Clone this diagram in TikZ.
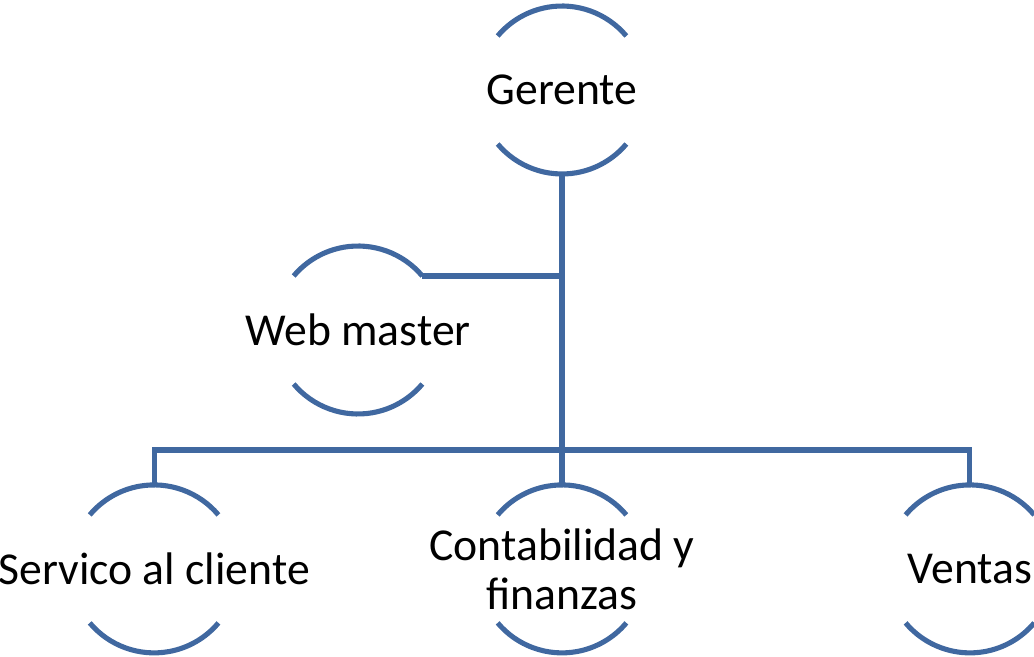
\documentclass[tikz,border=0pt]{standalone}
\usepackage{fontspec}
\setmainfont{Carlito}
\usepackage{tikz}
\usetikzlibrary{positioning}
\definecolor{orgblue}{RGB}{64,104,160}

\begin{document}
\begin{tikzpicture}[
  x=0.02cm, y=0.02cm,
  node distance=6.22cm and 4.8cm,
  role/.style={circle, minimum size=3.36cm, inner sep=0pt, outer sep=0pt},
  rolename/.style={font=\fontsize{26}{28}\selectfont, align=center, inner sep=0pt},
  rim/.style={draw=orgblue, line width=2.9pt},
  link/.style={draw=orgblue, line width=2.9pt}
]
\useasboundingbox (0,0) rectangle (1034,656);

\node[role, label={[rolename]center:Gerente}] (gerente) at (562,566) {};
\node[role, label={[rolename]center:Web master}] (web) at (358,326) {};
\node[role, below=of gerente, label={[rolename]center:Contabilidad y\\finanzas}] (contab) {};
\node[role, left=of contab, label={[rolename]center:Servico al cliente}] (servicio) {};
\node[role, right=of contab, label={[rolename]center:Ventas}] (ventas) {};

% open rings round each role
\foreach \n in {gerente,web,contab,servicio,ventas}{
  \draw[rim] (\n.40) arc[start angle=40, end angle=140, radius=1.68cm];
  \draw[rim] (\n.220) arc[start angle=220, end angle=320, radius=1.68cm];
}

\coordinate (bus) at (562,206);
\draw[link] (gerente.south) -- (contab.north);
\draw[link] (web.40) -- (web.40 -| gerente.south);
\draw[link] (servicio.north) |- (bus) -| (ventas.north);
\end{tikzpicture}
\end{document}
